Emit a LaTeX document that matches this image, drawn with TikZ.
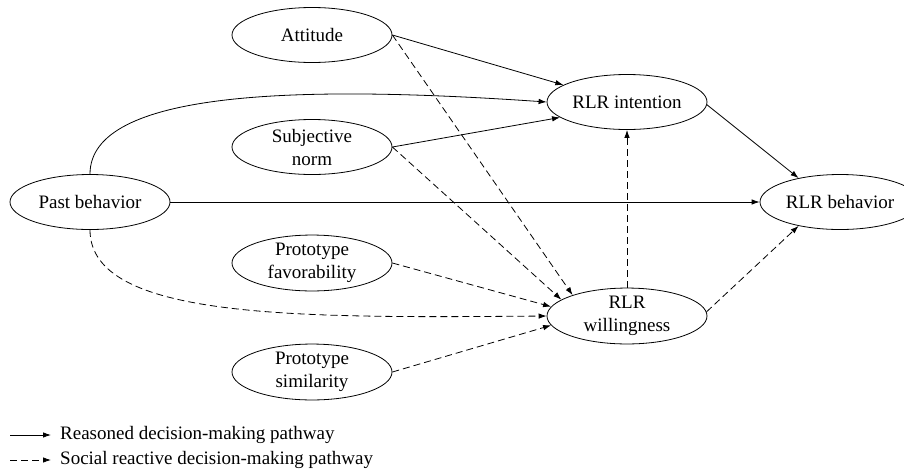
\documentclass[tikz,border=0pt]{standalone}
\usepackage{fontspec}
\setmainfont{Liberation Serif}
\usetikzlibrary{shapes.geometric,arrows.meta}

\begin{document}
\begin{tikzpicture}[x=1pt, y=-1pt,
   construct/.style={ellipse, draw, line width=0.8pt, minimum width=160pt, minimum height=55pt,
                     inner sep=0pt, align=center, font=\fontsize{19}{23}\selectfont},
   reasoned/.style={line width=0.8pt, -{Latex[length=8pt,width=5.5pt]}},
   social/.style={reasoned, dash pattern=on 7pt off 4pt},
   legend/.style={anchor=west, inner sep=0pt, font=\fontsize{19}{23}\selectfont}]
   \useasboundingbox (0,0) rectangle (904,472);

   % draw constructs
   \node[construct] (att)  at (312,35)  {Attitude};
   \node[construct] (sn)   at (312,147) {Subjective\\norm};
   \node[construct] (past) at (90,202)  {Past behavior};
   \node[construct] (pf)   at (312,263) {Prototype\\favorability};
   \node[construct] (ps)   at (312,372) {Prototype\\similarity};
   \node[construct] (int)  at (627,102) {RLR intention};
   \node[construct] (will) at (627,316) {RLR\\willingness};
   \node[construct] (beh)  at (840,202) {RLR behavior};

   % draw reasoned pathway
   \draw[reasoned] (att.east) -- (int.165);
   \draw[reasoned] (sn.east) -- (int.193);
   \draw[reasoned] (past.north) .. controls (90,90) and (300,85) .. (int.west);
   \draw[reasoned] (past.east) -- (beh.west);
   \draw[reasoned] (int.358) -- (beh.150);

   % draw social reactive pathway
   \foreach \from/\ang in {att/159, sn/166, pf/173, ps/187}
     \draw[social] (\from.east) -- (will.\ang);
   \draw[social] (past.south) .. controls (90,320) and (300,318) .. (will.west);
   \draw[social] (will.north) -- (int.south);
   \draw[social] (will.3) -- (beh.210);

   % draw legend
   \node[legend] (lreas) at (60,435) {Reasoned decision-making pathway};
   \node[legend] (lsoc)  at (60,460) {Social reactive decision-making pathway};
   \coordinate (lreasstart) at (10,435);
   \coordinate (lsocstart) at (10,460);
   \draw[reasoned] (lreasstart) -- ([xshift=-9pt]lreas.west);
   \draw[social] (lsocstart) -- ([xshift=-9pt]lsoc.west);
\end{tikzpicture}
\end{document}
